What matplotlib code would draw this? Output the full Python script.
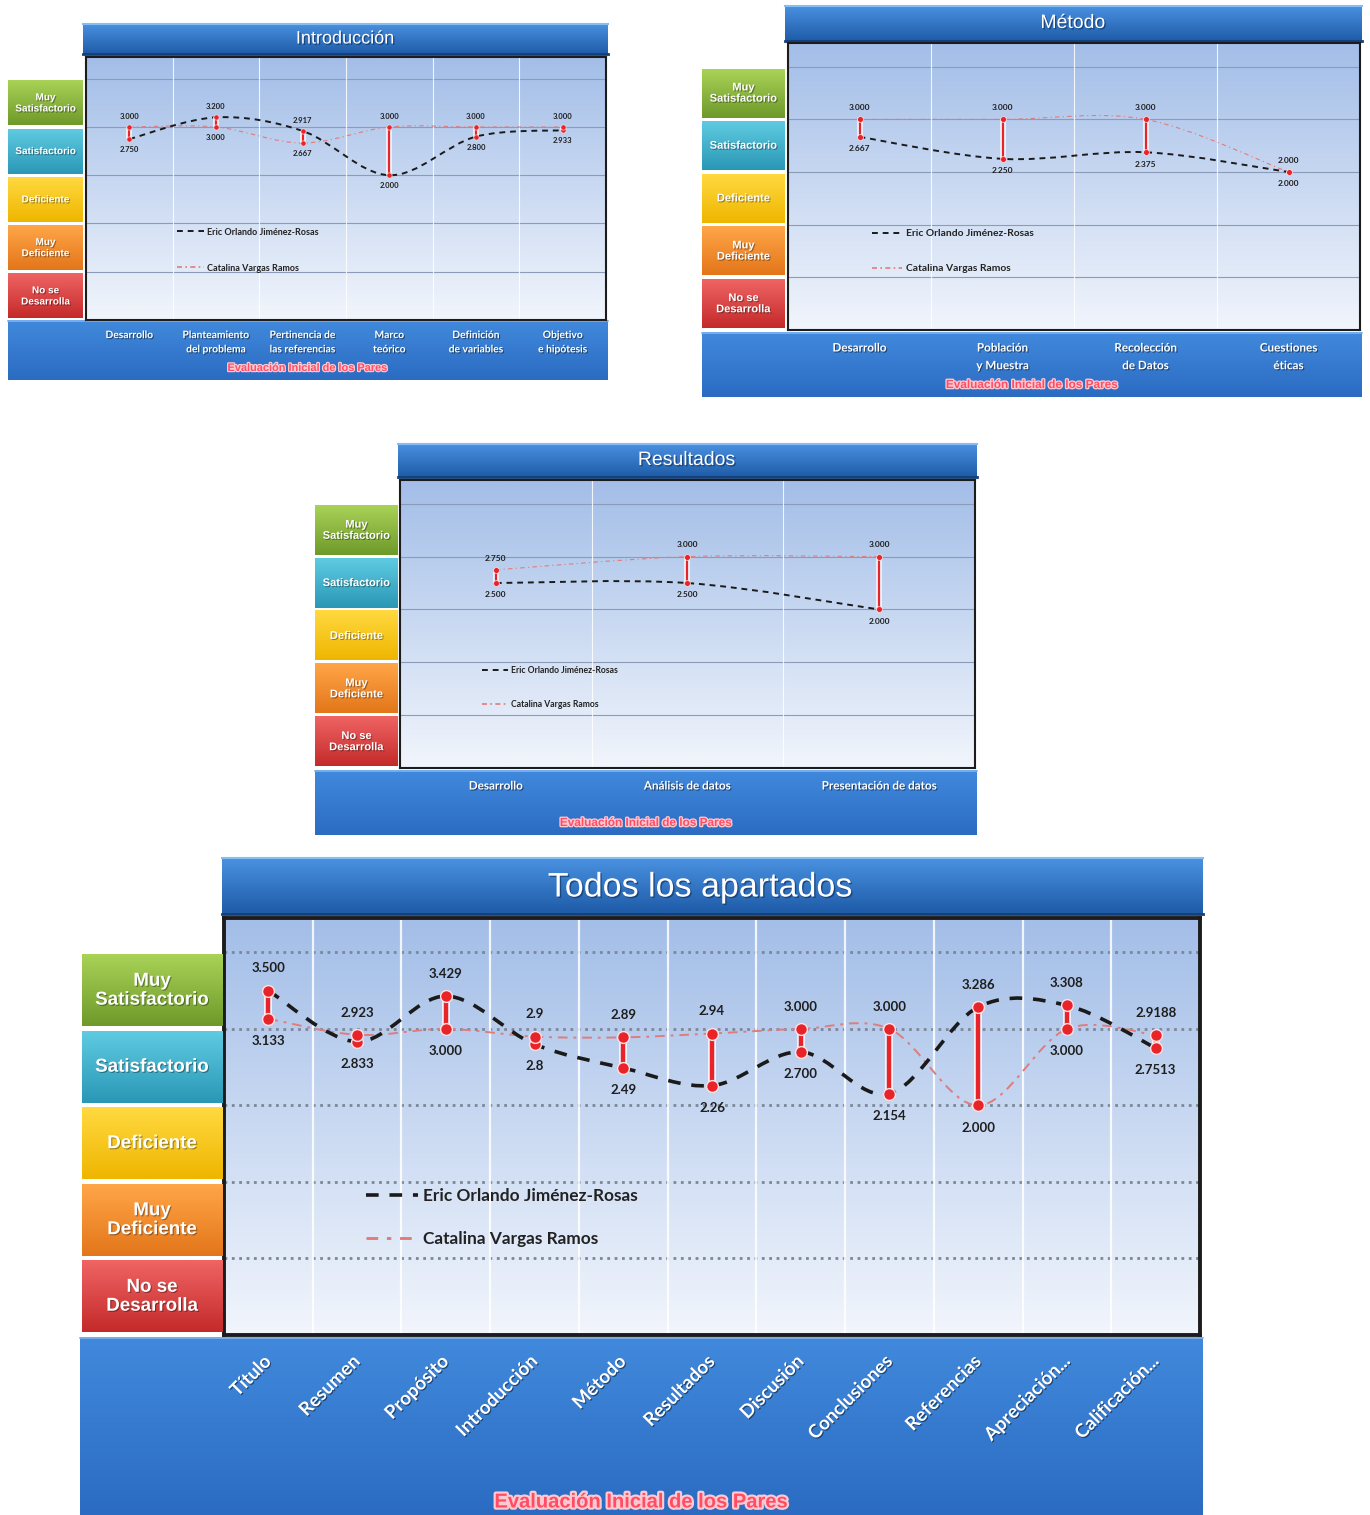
import numpy as np
import matplotlib
matplotlib.use("Agg")
import matplotlib.pyplot as plt
from matplotlib.path import Path
from matplotlib.patches import PathPatch
from matplotlib.lines import Line2D
import matplotlib.patheffects as pe
from matplotlib.colors import to_rgb

# ---------------- data ----------------
level_names = ["No se\nDesarrolla", "Muy\nDeficiente", "Deficiente", "Satisfactorio", "Muy\nSatisfactorio"]
level_bounds = [-1, 0, 1, 2, 3, 4]
series_names = ["Eric Orlando Jiménez-Rosas", "Catalina Vargas Ramos"]
x_title = "Evaluación Inicial de los Pares"

intro_title = "Introducción"
intro_categories = ["Desarrollo", "Planteamiento\ndel problema", "Pertinencia de\nlas referencias",
                    "Marco\nteórico", "Definición\nde variables", "Objetivo\ne hipótesis"]
intro_eric = [2.750, 3.200, 2.917, 2.000, 2.800, 2.933]
intro_catalina = [3.000, 3.000, 2.667, 3.000, 3.000, 3.000]

metodo_title = "Método"
metodo_categories = ["Desarrollo", "Población\ny Muestra", "Recolección\nde Datos", "Cuestiones\néticas"]
metodo_eric = [2.667, 2.250, 2.375, 2.000]
metodo_catalina = [3.000, 3.000, 3.000, 2.000]

resultados_title = "Resultados"
resultados_categories = ["Desarrollo", "Análisis de datos", "Presentación de datos"]
resultados_eric = [2.500, 2.500, 2.000]
resultados_catalina = [2.750, 3.000, 3.000]

todos_title = "Todos los apartados"
todos_categories = ["Título", "Resumen", "Propósito", "Introducción", "Método", "Resultados",
                    "Discusión", "Conclusiones", "Referencias", "Apreciación...", "Calificación..."]
todos_eric = [3.500, 2.833, 3.429, 2.8, 2.49, 2.26, 2.700, 2.154, 3.286, 3.308, 2.7513]
todos_catalina = [3.133, 2.923, 3.000, 2.9, 2.89, 2.94, 3.000, 3.000, 2.000, 3.000, 2.9188]
todos_eric_labels = ["3.500", "2.833", "3.429", "2.8", "2.49", "2.26", "2.700", "2.154", "3.286", "3.308", "2.7513"]
todos_catalina_labels = ["3.133", "2.923", "3.000", "2.9", "2.89", "2.94", "3.000", "3.000", "2.000", "3.000", "2.9188"]

# ---------------- styling ----------------
W, H = 1370, 1515
fig = plt.figure(figsize=(W / 100, H / 100), dpi=100)
YLIM = (-1, 4.45)
LBL_FONT = ["Lato", "DejaVu Sans"]
ARIAL = ["Liberation Sans", "DejaVu Sans"]
box_colors = [("#f06464", "#c42a2a"), ("#ffa648", "#e3761a"), ("#ffd940", "#efb600"),
              ("#5fcbe2", "#2a97b6"), ("#a9d257", "#6e9a2a")]
ERIC_C = "#1a1a1a"
CAT_C = "#e07c7c"
HILO_C = "#e8232a"


def axes_px(x0, y0, x1, y1, **kw):
    return fig.add_axes([x0 / W, 1 - y1 / H, (x1 - x0) / W, (y1 - y0) / H], **kw)


def vgrad(ax, extent, top, bottom, n=64, transform=None, zorder=0):
    c0 = np.array(to_rgb(top))
    c1 = np.array(to_rgb(bottom))
    t = np.linspace(0, 1, n)[:, None]
    img = (c0 * (1 - t) + c1 * t)[:, None, :]
    kw = dict(extent=extent, aspect="auto", zorder=zorder, interpolation="bilinear")
    if transform is not None:
        kw["transform"] = transform
    ax.imshow(img, **kw)


def smooth_path(xs, ys):
    pts = np.column_stack([xs, ys]).astype(float)
    n = len(pts)
    verts = [pts[0]]
    codes = [Path.MOVETO]
    for i in range(n - 1):
        p0 = pts[i - 1] if i > 0 else pts[i]
        p1, p2 = pts[i], pts[i + 1]
        p3 = pts[i + 2] if i + 2 < n else pts[i + 1]
        verts += [p1 + (p2 - p0) / 6, p2 - (p3 - p1) / 6, p2]
        codes += [Path.CURVE4] * 3
    return Path(verts, codes)


bg = axes_px(0, 0, W, H)
bg.set_xlim(0, W)
bg.set_ylim(H, 0)
bg.axis("off")

shadow = [pe.withSimplePatchShadow(offset=(0.8, -0.8), shadow_rgbFace="black", alpha=0.45)]


def draw_chart(L, title, cats, eric, cata, eric_lbl, cata_lbl, S):
    n = len(cats)
    # bottom band
    bx0, by0, bx1, by1 = L["band"]
    vgrad(bg, (bx0, bx1, by1, by0), "#4189dc", "#2b6cc2")
    bg.plot([bx0, bx1], [by0 + 1, by0 + 1], color="#7fb4f0", lw=1.2, zorder=2)
    # title bar
    tx0, ty0, tx1, ty1 = L["tbar"]
    vgrad(bg, (tx0, tx1, ty1, ty0), "#4a92e2", "#1d5aa6")
    bg.plot([tx0, tx1], [ty0 + 1, ty0 + 1], color="#86bdf5", lw=1.5, zorder=2)
    bg.plot([tx0, tx1], [ty1 - 1, ty1 - 1], color="#143f78", lw=2, zorder=2)
    bg.text(L["title_x"], (ty0 + ty1) / 2 + L.get("title_dy", 0), title, color="white", fontsize=S["title"],
            family=ARIAL, ha="center", va="center", zorder=3,
            path_effects=[pe.withSimplePatchShadow(offset=(1, -1), shadow_rgbFace="#0c2c5a", alpha=0.6)])
    # x axis title
    bg.text(L["xt"][0], L["xt"][1], x_title, color="#ff4d64", fontsize=S["xtitle"], family=ARIAL,
            weight="bold", ha="center", va="center", zorder=3,
            path_effects=[pe.withStroke(linewidth=S["xtitle"] * 0.22, foreground="#ffc9d2")])

    # plot area
    px0, py0, px1, py1 = L["plot"]
    ax = axes_px(px0, py0, px1, py1)
    ax.set_facecolor("none")
    vgrad(ax, (0, 1, 0, 1), "#a3bee8", "#f1f5fc", transform=ax.transAxes, zorder=0)
    x = np.arange(n)
    ax.set_xlim(-0.5, n - 0.5)
    ax.set_ylim(*YLIM)
    # grids
    for yv in range(0, 5):
        ax.axhline(yv, color=S["hgrid_c"], lw=S["hgrid_lw"], ls=S["hgrid_ls"], zorder=1)
    for xv in np.arange(n - 1) + 0.5:
        ax.axvline(xv, color="white", lw=S["vgrid_lw"], alpha=0.85, zorder=1)
    # series (smoothed)
    ax.add_patch(PathPatch(smooth_path(x, cata), fill=False, ec=CAT_C, lw=S["cat_lw"],
                           ls=(0, S["cat_dash"]), zorder=3, capstyle="butt"))
    ax.add_patch(PathPatch(smooth_path(x, eric), fill=False, ec=ERIC_C, lw=S["eric_lw"],
                           ls=(0, S["eric_dash"]), zorder=4, capstyle="butt"))
    # high-low lines
    glow = [pe.withStroke(linewidth=S["hilo_lw"] + 2.5, foreground=(1, 1, 1, 0.8))]
    lo = np.minimum(eric, cata)
    hi = np.maximum(eric, cata)
    ax.vlines(x, lo, hi, color=HILO_C, lw=S["hilo_lw"], zorder=5, path_effects=glow)
    for vals in (eric, cata):
        ax.plot(x, vals, ls="none", marker="o", ms=S["ms"], color=HILO_C, mec="#ffe0e0",
                mew=S["ms"] * 0.12, zorder=6)
    # labels
    for i in range(n):
        if eric[i] >= cata[i]:
            top, bot = eric_lbl[i], cata_lbl[i]
        else:
            top, bot = cata_lbl[i], eric_lbl[i]
        ax.annotate(top, (x[i], hi[i]), xytext=(0, S["lbl_off"]), textcoords="offset points",
                    ha="center", va="center", fontsize=S["lbl"], weight="bold", family=LBL_FONT,
                    color="#1e1e1e", zorder=7)
        ax.annotate(bot, (x[i], lo[i]), xytext=(0, -S["lbl_off"]), textcoords="offset points",
                    ha="center", va="center", fontsize=S["lbl"], weight="bold", family=LBL_FONT,
                    color="#1e1e1e", zorder=7)
    # legend
    handles = [Line2D([], [], color=ERIC_C, lw=S["eric_lw"], ls=(0, S["eric_dash"])),
               Line2D([], [], color=CAT_C, lw=S["cat_lw"] * 1.5, ls=(0, S["leg_cat_dash"]))]
    leg = ax.legend(handles, series_names, loc="center left", bbox_to_anchor=L["leg"],
                    frameon=False, handlelength=3.0, handletextpad=0.3,
                    labelspacing=S["leg_sp"], prop=dict(family=LBL_FONT, weight="bold", size=S["leg"]))
    for t in leg.get_texts():
        t.set_color("#222222")
    # ticks
    ax.set_yticks([])
    ax.set_xticks(x)
    if S.get("rot"):
        ax.set_xticklabels(cats, rotation=45, ha="right", va="center", rotation_mode="anchor")
    else:
        ax.set_xticklabels(cats, linespacing=S.get("tick_ls", 1.5))
    ax.tick_params(axis="x", length=0, pad=S["tick_pad"], labelsize=S["tick"], labelcolor="white")
    for t in ax.get_xticklabels():
        t.set_fontfamily(LBL_FONT)
        t.set_fontweight("bold")
        t.set_path_effects(shadow)
    for sp in ax.spines.values():
        sp.set_color("#1c1c1c")
        sp.set_linewidth(S["border"])

    # level boxes (share the y scale)
    bx = axes_px(L["boxx"][0], py0, L["boxx"][1], py1, sharey=ax)
    bx.set_facecolor("none")
    bx.axis("off")
    bx.set_xlim(0, 1)
    gap = 0.035
    for k, name in enumerate(level_names):
        y0b, y1b = level_bounds[k] + gap, level_bounds[k + 1] - gap
        ctop, cbot = box_colors[k][0], box_colors[k][1]
        vgrad(bx, (0.0, 1.0, y0b, y1b), ctop, cbot, zorder=1)
        bx.text(0.5, (y0b + y1b) / 2, name, ha="center", va="center", color="white",
                fontsize=S["box"], weight="bold", family=ARIAL, linespacing=1.15, zorder=3,
                path_effects=[pe.withSimplePatchShadow(offset=(0.8, -0.8), shadow_rgbFace="black", alpha=0.35)])
    bx.set_xlim(0, 1)
    ax.set_ylim(*YLIM)
    return ax


small = dict(hgrid_c="#8c9cb8", hgrid_lw=0.8, hgrid_ls="-", vgrid_lw=0.8, cat_lw=0.8,
             cat_dash=(4, 3, 1, 3), leg_cat_dash=(3, 2, 1, 2), eric_lw=1.4, eric_dash=(3, 2.5),
             hilo_lw=1.6, ms=3.8, lbl_off=7.5, border=1.5, tick_ls=1.75)

draw_chart(dict(band=(8, 320, 608, 380), tbar=(83, 23, 608, 55), title_x=345, xt=(308, 368),
                plot=(86, 57, 606, 320), boxx=(8, 83), leg=(0.16, 0.266)),
           intro_title, intro_categories, intro_eric, intro_catalina,
           ["%.3f" % v for v in intro_eric], ["%.3f" % v for v in intro_catalina],
           dict(small, title=13, xtitle=7.9, lbl=5.5, leg=6.5, leg_sp=3.0, tick=7.4,
                tick_pad=8, box=7.2))

draw_chart(dict(band=(702, 332, 1362, 397), tbar=(785, 5, 1362, 42), title_x=1073, xt=(1032, 385),
                plot=(788, 43, 1360, 330), boxx=(702, 785), leg=(0.13, 0.275)),
           metodo_title, metodo_categories, metodo_eric, metodo_catalina,
           ["%.3f" % v for v in metodo_eric], ["%.3f" % v for v in metodo_catalina],
           dict(small, title=14, xtitle=8.5, lbl=6.0, leg=7.4, leg_sp=2.5, tick=8.4,
                tick_pad=9, box=8.0, ms=4.2, lbl_off=8.5))

draw_chart(dict(band=(315, 770, 977, 835), tbar=(398, 443, 977, 478), title_x=687, xt=(646, 823),
                plot=(400, 480, 975, 768), boxx=(315, 398), leg=(0.13, 0.278)),
           resultados_title, resultados_categories, resultados_eric, resultados_catalina,
           ["%.3f" % v for v in resultados_eric], ["%.3f" % v for v in resultados_catalina],
           dict(small, title=14, xtitle=8.5, lbl=6.0, leg=6.2, leg_sp=2.9, tick=8.4,
                tick_pad=9, box=8.0, ms=4.2, lbl_off=8.5))

draw_chart(dict(band=(80, 1337, 1203, 1515), tbar=(222, 857, 1203, 915), title_x=700, xt=(641, 1502),
                plot=(224, 918, 1200, 1335), boxx=(82, 222), leg=(0.13, 0.282), title_dy=2),
           todos_title, todos_categories, todos_eric, todos_catalina,
           todos_eric_labels, todos_catalina_labels,
           dict(hgrid_c="#7d8796", hgrid_lw=2.0, hgrid_ls=":", vgrid_lw=1.6, cat_lw=1.4,
                cat_dash=(5, 3, 1.5, 3), leg_cat_dash=(4, 3, 1.5, 3), eric_lw=2.6, eric_dash=(3.5, 3),
                hilo_lw=3.2, ms=8.5, lbl_off=16, border=2.8,
                title=24.5, xtitle=14.5, lbl=9.5, leg=12.4, leg_sp=1.6, tick=13.5, tick_pad=17,
                box=13.5, rot=True))

fig.savefig("out.png", dpi=100)
